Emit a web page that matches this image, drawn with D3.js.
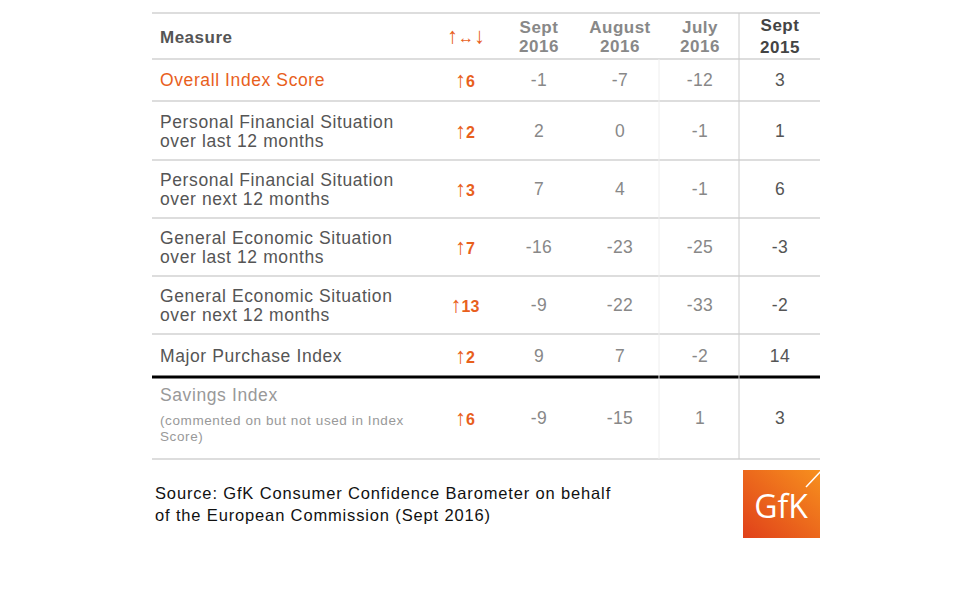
<!DOCTYPE html>
<html><head><meta charset="utf-8">
<script src="https://cdn.jsdelivr.net/npm/d3@7"></script>
<style>body{margin:0;background:#fff}svg{font-family:"Liberation Sans",Arial,sans-serif}</style>
</head><body><svg id="c" width="980" height="600"></svg>
<script>
const columns = ["Sept 2016","August 2016","July 2016","Sept 2015"];
const measures = [
 ["Overall Index Score"],
 ["Personal Financial Situation","over last 12 months"],
 ["Personal Financial Situation","over next 12 months"],
 ["General Economic Situation","over last 12 months"],
 ["General Economic Situation","over next 12 months"],
 ["Major Purchase Index"],
 ["Savings Index"]
];
const changes = [6,2,3,7,13,2,6];
const sept2016 = [-1,2,7,-16,-9,9,-9];
const aug2016 = [-7,0,4,-23,-22,7,-15];
const jul2016 = [-12,-1,-1,-25,-33,-2,1];
const sept2015 = [3,1,6,-3,-2,14,3];

const svg = d3.select("#c");
const x0=152, x1=820;
const rowH=[46,42,59,58,58,58,43,82];
const ys=[13]; rowH.forEach(h=>ys.push(ys[ys.length-1]+h));
const colX=[465,539,620,700,780];
const grey="#555", orange="#e8601c";
const FS=17.5, LS="0.6px";

ys.forEach((y,i)=>{
  if(i===7) return;
  svg.append("line").attr("x1",x0).attr("x2",x1).attr("y1",y).attr("y2",y)
   .attr("stroke","#ddd").attr("stroke-width",2);
});
svg.append("line").attr("x1",x0).attr("x2",x1).attr("y1",ys[7]).attr("y2",ys[7]).attr("stroke","#000").attr("stroke-width",3);
svg.append("line").attr("x1",659).attr("x2",659).attr("y1",ys[1]).attr("y2",ys[8]).attr("stroke","#eee");
svg.append("line").attr("x1",739).attr("x2",739).attr("y1",ys[0]).attr("y2",ys[8]).attr("stroke","#ccc");

svg.append("text").attr("x",160).attr("y",43).attr("font-size",17).attr("font-weight","bold").attr("letter-spacing","0.5px").attr("fill",grey).text("Measure");
const hd=svg.append("text").attr("x",466).attr("y",43).attr("text-anchor","middle").attr("fill",orange);
hd.append("tspan").attr("font-size",22).text("↑");
hd.append("tspan").attr("font-size",16).text("↔");
hd.append("tspan").attr("font-size",22).text("↓");
columns.forEach((c,i)=>{
  const [a,b]=c.split(" ");
  const t=svg.append("text").attr("text-anchor","middle").attr("font-size",17).attr("font-weight","bold").attr("letter-spacing","0.5px").attr("fill",i===3?"#444":"#888");
  t.append("tspan").attr("x",colX[i+1]).attr("y",i===3?31:33).text(a);
  t.append("tspan").attr("x",colX[i+1]).attr("y",i===3?53:52).text(b);
});

const vals=[sept2016,aug2016,jul2016,sept2015];
measures.forEach((m,r)=>{
  const top=ys[r+1], bot=ys[r+2];
  const cy=(top+bot)/2;
  const col = r===0?orange:(r===6?"#999":grey);
  if(r===6){
    svg.append("text").attr("x",160).attr("y",top+24).attr("font-size",FS).attr("letter-spacing",LS).attr("fill",col).text(m[0]);
    const t=svg.append("text").attr("font-size",13.5).attr("letter-spacing","0.6px").attr("fill","#999");
    t.append("tspan").attr("x",160).attr("y",top+48).text("(commented on but not used in Index");
    t.append("tspan").attr("x",160).attr("y",top+64).text("Score)");
  } else if(m.length===1){
    svg.append("text").attr("x",160).attr("y",cy+6).attr("font-size",FS).attr("letter-spacing",LS).attr("fill",col).text(m[0]);
  } else {
    svg.append("text").attr("x",160).attr("y",cy-3).attr("font-size",FS).attr("letter-spacing",LS).attr("fill",col).text(m[0]);
    svg.append("text").attr("x",160).attr("y",cy+16).attr("font-size",FS).attr("letter-spacing",LS).attr("fill",col).text(m[1]);
  }
  const ch=svg.append("text").attr("x",colX[0]).attr("y",cy+7).attr("text-anchor","middle").attr("font-weight","bold").attr("fill",orange);
  ch.append("tspan").attr("font-size",22).attr("font-weight","normal").text("↑");
  ch.append("tspan").attr("font-size",16).text(changes[r]);
  vals.forEach((v,i)=>{
    svg.append("text").attr("x",colX[i+1]).attr("y",cy+6).attr("text-anchor","middle").attr("font-size",FS).attr("letter-spacing","0.4px")
     .attr("fill",i===3?"#555":"#888").text(v[r]);
  });
});

svg.append("text").attr("x",155).attr("y",499).attr("font-size",16.5).attr("letter-spacing","0.85px").attr("fill","#111").text("Source: GfK Consumer Confidence Barometer on behalf");
svg.append("text").attr("x",155).attr("y",521).attr("font-size",16.5).attr("letter-spacing","0.85px").attr("fill","#111").text("of the European Commission (Sept 2016)");

const defs=svg.append("defs");
const g=defs.append("linearGradient").attr("id","lg").attr("x1","0").attr("y1","1").attr("x2","1").attr("y2","0");
g.append("stop").attr("offset","0").attr("stop-color","#e0401a");
g.append("stop").attr("offset","1").attr("stop-color","#f7901e");
svg.append("rect").attr("x",743).attr("y",470).attr("width",77).attr("height",68).attr("fill","url(#lg)");
svg.append("line").attr("x1",806).attr("y1",487).attr("x2",822).attr("y2",470).attr("stroke","#fff").attr("stroke-width",1.5);
svg.append("text").attr("x",781).attr("y",518).attr("text-anchor","middle").attr("font-size",32).attr("fill","#fff").attr("font-family","'Open Sans',sans-serif").text("GfK");
</script></body></html>
